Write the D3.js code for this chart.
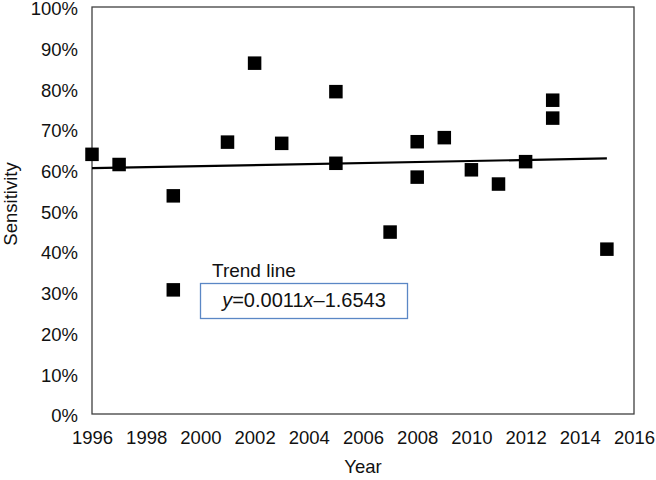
<!DOCTYPE html>
<html>
<head>
<meta charset="utf-8">
<script src="https://cdn.jsdelivr.net/npm/d3@7"></script>
<style>
  body { margin: 0; background: #fff; }
  svg { display: block; }
</style>
</head>
<body>
<div id="chart"></div>
<script>
// Data
var years = [1996, 1997, 1999, 1999, 2001, 2002, 2003, 2005, 2005, 2007, 2008, 2008, 2009, 2010, 2011, 2012, 2013, 2013, 2015];
var sensitivity = [0.638, 0.613, 0.536, 0.305, 0.668, 0.862, 0.665, 0.792, 0.616, 0.447, 0.669, 0.582, 0.679, 0.600, 0.565, 0.620, 0.771, 0.727, 0.405];
var trendYears = [1996, 2015];
var trendValues = [0.604, 0.628];
var xTicks = [1996, 1998, 2000, 2002, 2004, 2006, 2008, 2010, 2012, 2014, 2016];
var yTicks = [0, 0.1, 0.2, 0.3, 0.4, 0.5, 0.6, 0.7, 0.8, 0.9, 1];

var attrs = {
  svgWidth: 656,
  svgHeight: 480,
  marginTop: 7,
  marginLeft: 92,
  marginRight: 22,
  marginBottom: 66,
  font: '"Liberation Sans", Arial, sans-serif',
  fontSize: 18.5,
  textFill: '#111'
};

var calc = {};
calc.chartWidth = attrs.svgWidth - attrs.marginLeft - attrs.marginRight;
calc.chartHeight = attrs.svgHeight - attrs.marginTop - attrs.marginBottom;

var points = years.map(function (y, i) { return { year: y, value: sensitivity[i] }; });
var trend = trendYears.map(function (y, i) { return { year: y, value: trendValues[i] }; });

var x = d3.scaleLinear().domain([1996, 2016]).range([0, calc.chartWidth]);
var y = d3.scaleLinear().domain([0, 1]).range([calc.chartHeight, 0]);

var svg = d3.select('#chart').append('svg')
  .attr('width', attrs.svgWidth)
  .attr('height', attrs.svgHeight)
  .attr('font-family', attrs.font);

var chart = svg.append('g')
  .attr('transform', 'translate(' + attrs.marginLeft + ',' + attrs.marginTop + ')');

// Axes (labels only, no tick marks)
var xAxis = chart.append('g')
  .attr('transform', 'translate(0,' + calc.chartHeight + ')')
  .call(d3.axisBottom(x).tickValues(xTicks).tickFormat(d3.format('d')).tickSize(0).tickPadding(17));

var yAxis = chart.append('g')
  .call(d3.axisLeft(y).tickValues(yTicks).tickFormat(d3.format('.0%')).tickSize(0).tickPadding(14));

[xAxis, yAxis].forEach(function (a) {
  a.select('.domain').remove();
  a.selectAll('text')
    .attr('font-family', attrs.font)
    .attr('font-size', attrs.fontSize)
    .attr('fill', attrs.textFill);
});
yAxis.selectAll('text').attr('dy', '0.42em');

// Plot frame
chart.append('rect')
  .attr('x', 0)
  .attr('y', 0)
  .attr('width', calc.chartWidth)
  .attr('height', calc.chartHeight)
  .attr('fill', 'none')
  .attr('stroke', '#404040')
  .attr('stroke-width', 1.3);

// Trend line
var line = d3.line()
  .x(function (d) { return x(d.year); })
  .y(function (d) { return y(d.value); });

chart.append('path')
  .datum(trend)
  .attr('d', line)
  .attr('fill', 'none')
  .attr('stroke', '#000')
  .attr('stroke-width', 2.2);

// Points
var size = 13.5;
chart.selectAll('.pt')
  .data(points)
  .enter()
  .append('rect')
  .attr('class', 'pt')
  .attr('x', function (d) { return x(d.year) - size / 2; })
  .attr('y', function (d) { return y(d.value) - size / 2; })
  .attr('width', size)
  .attr('height', size)
  .attr('fill', '#000');

// Annotation
svg.append('text')
  .attr('x', 212)
  .attr('y', 277)
  .attr('font-size', 19)
  .attr('fill', attrs.textFill)
  .text('Trend line');

svg.append('rect')
  .attr('x', 200.5)
  .attr('y', 283.5)
  .attr('width', 207)
  .attr('height', 35)
  .attr('fill', '#fff')
  .attr('stroke', '#5b87c5')
  .attr('stroke-width', 1.3);

var eq = svg.append('text')
  .attr('x', 304)
  .attr('y', 307)
  .attr('text-anchor', 'middle')
  .attr('font-size', 20)
  .attr('fill', attrs.textFill);
eq.append('tspan').attr('font-style', 'italic').text('y');
eq.append('tspan').text('=0.0011');
eq.append('tspan').attr('font-style', 'italic').text('x');
eq.append('tspan').text('\u20131.6543');

// Axis titles
svg.append('text')
  .attr('x', attrs.marginLeft + calc.chartWidth / 2)
  .attr('y', 473)
  .attr('text-anchor', 'middle')
  .attr('font-size', attrs.fontSize)
  .attr('fill', attrs.textFill)
  .text('Year');

svg.append('text')
  .attr('transform', 'translate(17,' + 204 + ') rotate(-90)')
  .attr('text-anchor', 'middle')
  .attr('font-size', attrs.fontSize)
  .attr('fill', attrs.textFill)
  .text('Sensitivity');
</script>
</body>
</html>
